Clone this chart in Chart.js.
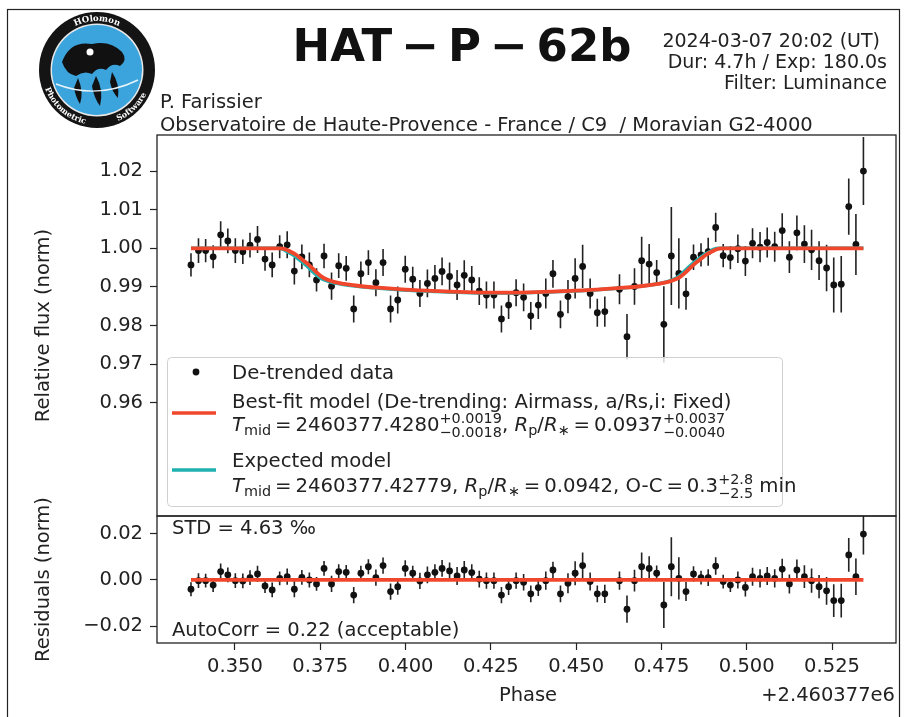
<!DOCTYPE html>
<html><head><meta charset="utf-8">
<script src="https://cdn.jsdelivr.net/npm/chart.js@4.4.1/dist/chart.umd.min.js"></script>
<style>
html,body{margin:0;padding:0;background:#fff;}
#wrap{position:relative;width:905px;height:717px;overflow:hidden;background:#fff;}
canvas{position:absolute;left:0;top:0;}
#ov{position:absolute;left:0;top:0;font-family:'DejaVu Sans',sans-serif;}
#ov text{white-space:pre;}
</style></head><body>
<div id="wrap">
<canvas id="mainChart" width="905" height="717"></canvas>
<canvas id="residChart" width="905" height="717"></canvas>
<svg id="ov" width="905" height="717" xmlns="http://www.w3.org/2000/svg">
  <rect x="7.5" y="9.5" width="892" height="720" fill="none" stroke="#222" stroke-width="1.2"/>
  <g id="logo">
    <circle cx="97" cy="70" r="58" fill="#141414"/>
    <circle cx="97" cy="70" r="46.5" fill="#e8e8e8"/>
    <circle cx="97" cy="70" r="45" fill="#3ba4dc"/>
    <path d="M62,62 Q70,40 92,44 Q110,40 122,52 Q128,60 120,66 Q112,62 106,70 Q98,66 92,74 Q84,70 76,76 Q66,74 62,62 Z" fill="#111"/>
    <path d="M78,78 Q84,92 80,104 Q76,98 74,88 Z M96,76 Q104,90 100,106 Q94,98 92,86 Z M112,72 Q120,84 118,98 Q112,92 110,82 Z" fill="#111"/>
    <path d="M56,84 Q97,100 138,80" stroke="#e8f4fb" stroke-width="1.4" fill="none"/>
    <circle cx="90" cy="52" r="3.5" fill="#fff"/>
    <defs>
      <path id="arcTop" d="M48,70 A49,49 0 0 1 146,70"/>
      <path id="arcBot" d="M42,70 A55,55 0 0 0 152,70"/>
    </defs>
    <text font-family="DejaVu Serif" font-weight="bold" font-size="8.5" fill="#fff"><textPath href="#arcTop" startOffset="50%" text-anchor="middle">HOlomon</textPath></text>
    <text font-family="DejaVu Serif" font-weight="bold" font-size="8" fill="#fff"><textPath href="#arcBot" startOffset="27%" text-anchor="middle">Photometric</textPath></text>
    <text font-family="DejaVu Serif" font-weight="bold" font-size="8" fill="#fff"><textPath href="#arcBot" startOffset="74%" text-anchor="middle">Software</textPath></text>
  </g>
  <text x="462" y="61" font-size="45" font-weight="bold" text-anchor="middle" fill="#111">HAT&#8201;−&#8201;P&#8201;−&#8201;62b</text>
  <g font-size="19" fill="#222" text-anchor="end">
    <text x="880" y="47">2024-03-07 20:02 (UT)</text>
    <text x="887" y="68">Dur: 4.7h / Exp: 180.0s</text>
    <text x="887" y="89">Filter: Luminance</text>
  </g>
  <g font-size="19.5" fill="#222">
    <text x="160" y="108">P. Farissier</text>
    <text x="160" y="131">Observatoire de Haute-Provence - France / C9  / Moravian G2-4000</text>
    <text x="172" y="534">STD = 4.63 ‰</text>
    <text x="172" y="636">AutoCorr = 0.22 (acceptable)</text>
    <text x="528" y="701" text-anchor="middle">Phase</text>
    <text x="895" y="701" text-anchor="end">+2.460377e6</text>
    <text transform="translate(49,325.5) rotate(-90)" text-anchor="middle">Relative flux (norm)</text>
    <text transform="translate(49,579.5) rotate(-90)" text-anchor="middle">Residuals (norm)</text>
  </g>
  <g id="legend">
    <rect x="167.5" y="357.5" width="615" height="149" rx="4" fill="#fff" fill-opacity="0.8" stroke="#d0d0d0" stroke-width="1"/>
    <circle cx="196" cy="372" r="3.4" fill="#111"/>
    <line x1="172" y1="413" x2="216" y2="413" stroke="#f0472c" stroke-width="3.5"/>
    <line x1="172" y1="470" x2="216" y2="470" stroke="#1fb0b0" stroke-width="3.5"/>
    <g font-size="19.7" fill="#222" id="legText">
      <text x="232" y="379">De-trended data</text>
      <text x="232" y="408">Best-fit model (De-trending: Airmass, a/Rs,i: Fixed)</text>
      <text x="232" y="467">Expected model</text>
    </g>
  </g>
</svg>
</div>
<script>
// ---- data ----
const phase = [0.3371,0.3393,0.3414,0.3436,0.3458,0.3479,0.3501,0.3523,0.3544,0.3566,
0.3588,0.3609,0.3631,0.3653,0.3674,0.3696,0.3718,0.3739,0.3761,0.3783,
0.3804,0.3826,0.3848,0.3869,0.3891,0.3913,0.3934,0.3956,0.3977,0.3999,
0.4021,0.4042,0.4064,0.4086,0.4107,0.4129,0.4151,0.4172,0.4194,0.4216,
0.4237,0.4259,0.4281,0.4302,0.4324,0.4346,0.4367,0.4389,0.4411,0.4432,
0.4454,0.4476,0.4497,0.4519,0.4541,0.4562,0.4584,0.4627,0.4649,0.4671,
0.4692,0.4714,0.4736,0.4757,0.4779,0.4801,0.4822,0.4844,0.4866,0.4887,
0.4909,0.4931,0.4952,0.4974,0.4996,0.5017,0.5039,0.5060,0.5082,0.5104,
0.5125,0.5147,0.5169,0.5190,0.5212,0.5234,0.5255,0.5277,0.5299,0.5320,0.5342];
const flux = [0.9957,0.9994,0.9994,0.9978,1.0035,1.0019,0.9994,0.9991,1.0008,1.0023,
0.9972,0.9957,1.0004,1.0009,0.9941,0.9978,0.9957,0.9918,0.9980,0.9902,
0.9955,0.9948,0.9843,0.9934,0.9963,0.9911,0.9963,0.9843,0.9866,0.9946,
0.9920,0.9883,0.9909,0.9922,0.9940,0.9927,0.9905,0.9930,0.9918,0.9889,
0.9879,0.9879,0.9817,0.9853,0.9885,0.9873,0.9825,0.9853,0.9883,0.9934,
0.9829,0.9875,0.9922,0.9953,0.9883,0.9833,0.9836,0.9894,0.9771,0.9901,
0.9968,0.9959,0.9937,0.9803,0.9980,0.9935,0.9882,0.9977,0.9983,0.9991,
1.0054,0.9981,0.9976,0.9999,0.9967,1.0013,1.0003,1.0015,1.0004,1.0046,
0.9977,1.0040,1.0011,0.9996,0.9968,0.9949,0.9905,0.9907,1.0108,1.0010,1.0200];
const fluxErr = [0.0030,0.0032,0.0030,0.0030,0.0035,0.0032,0.0032,0.0032,0.0032,0.0035,
0.0030,0.0032,0.0030,0.0035,0.0035,0.0032,0.0032,0.0030,0.0032,0.0035,
0.0032,0.0032,0.0035,0.0032,0.0032,0.0035,0.0035,0.0035,0.0035,0.0035,
0.0032,0.0035,0.0036,0.0035,0.0036,0.0036,0.0039,0.0039,0.0036,0.0036,
0.0035,0.0035,0.0035,0.0036,0.0035,0.0036,0.0036,0.0036,0.0039,0.0036,
0.0036,0.0043,0.0052,0.0056,0.0039,0.0036,0.0039,0.0039,0.0059,0.0047,
0.0062,0.0052,0.0033,0.0099,0.0127,0.0091,0.0041,0.0033,0.0030,0.0036,
0.0038,0.0030,0.0030,0.0037,0.0039,0.0039,0.0039,0.0039,0.0039,0.0045,
0.0041,0.0045,0.0049,0.0052,0.0050,0.0060,0.0071,0.0073,0.0073,0.0079,0.0088];
const resid = [-0.0040,-0.0003,-0.0003,-0.0022,0.0036,0.0022,-0.0003,-0.0004,0.0010,0.0026,
-0.0026,-0.0043,0.0007,0.0014,-0.0040,0.0011,0.0000,-0.0017,0.0050,-0.0017,
0.0036,0.0033,-0.0065,0.0029,0.0057,0.0010,0.0062,-0.0050,-0.0029,0.0050,
0.0029,-0.0004,0.0022,0.0033,0.0050,0.0039,0.0017,0.0043,0.0032,0.0004,
-0.0003,-0.0003,-0.0065,-0.0029,-0.0003,-0.0010,-0.0060,-0.0033,-0.0003,0.0043,
-0.0060,-0.0014,0.0029,0.0062,-0.0007,-0.0060,-0.0060,-0.0003,-0.0126,-0.0003,
0.0057,0.0050,0.0029,-0.0108,0.0057,0.0007,-0.0050,0.0026,0.0010,0.0010,
0.0060,-0.0007,-0.0022,0.0000,-0.0032,0.0014,0.0007,0.0017,0.0007,0.0047,
-0.0017,0.0043,0.0014,-0.0003,-0.0029,-0.0047,-0.0089,-0.0089,0.0108,0.0014,0.0198];
const fitPhase = [0.3371,0.3632,0.3650,0.3661,0.3678,0.3695,0.3710,0.3725,0.3740,0.3755,
0.3770,0.3790,0.3820,0.3860,0.3920,0.4000,0.4100,0.4200,0.4280,0.4360,
0.4460,0.4560,0.4640,0.4700,0.4740,0.4770,0.4790,0.4805,0.4820,0.4835,
0.4850,0.4865,0.4882,0.4899,0.4910,0.4928,0.5342];
const fitFlux = [1.0000,1.0000,0.9997,0.9992,0.9984,0.9972,0.9962,0.9950,0.9937,0.9926,
0.9919,0.9913,0.9908,0.9903,0.9898,0.9893,0.9889,0.9886,0.9885,0.9886,
0.9889,0.9893,0.9898,0.9903,0.9908,0.9913,0.9919,0.9926,0.9937,0.9950,
0.9962,0.9972,0.9984,0.9992,0.9997,1.0000,1.0000];
const expPhase = [0.3371,0.3624,0.3642,0.3653,0.3670,0.3687,0.3702,0.3717,0.3732,0.3747,
0.3762,0.3782,0.3812,0.3852,0.3912,0.3992,0.4092,0.4192,0.4272,0.4352,
0.4452,0.4552,0.4632,0.4692,0.4732,0.4762,0.4782,0.4797,0.4812,0.4827,
0.4842,0.4857,0.4874,0.4891,0.4902,0.4920,0.5342];
const expFlux = [1.0000,1.0000,0.9997,0.9991,0.9983,0.9971,0.9961,0.9949,0.9936,0.9925,
0.9918,0.9912,0.9907,0.9902,0.9897,0.9892,0.9888,0.9885,0.9884,0.9885,
0.9888,0.9892,0.9897,0.9902,0.9907,0.9912,0.9918,0.9925,0.9936,0.9949,
0.9961,0.9971,0.9983,0.9991,0.9997,1.0000,1.0000];
const xTicks = [0.350,0.375,0.400,0.425,0.450,0.475,0.500,0.525];
const fluxTicks = [0.96,0.97,0.98,0.99,1.00,1.01,1.02];
const residTicks = [-0.02,0.00,0.02];
const residTickLabels = ['\u22120.02','0.00','0.02'];
const xRange = [0.32714,0.54375];
const fluxRange = [0.93065,1.02935];
const residRange = [-0.0272,0.0276];

// ---- drawing ----
const RED='#f0472c', CYAN='#1fb0b0', INK='#222';
const FONT={family:"'DejaVu Sans', sans-serif", size:19.5};
const pts=(xs,ys)=>xs.map((v,i)=>({x:v,y:ys[i]}));

function errorBarPlugin(vals, errs){
  return {id:'errorBars', beforeDatasetsDraw(chart){
    const {ctx, chartArea:a, scales:{x,y}} = chart;
    ctx.save(); ctx.beginPath(); ctx.rect(a.left,a.top,a.right-a.left,a.bottom-a.top); ctx.clip();
    ctx.strokeStyle=INK; ctx.lineWidth=1.6; ctx.beginPath();
    for(let i=0;i<phase.length;i++){
      const px=x.getPixelForValue(phase[i]);
      ctx.moveTo(px,y.getPixelForValue(vals[i]-errs[i]));
      ctx.lineTo(px,y.getPixelForValue(vals[i]+errs[i]));
    }
    ctx.stroke(); ctx.restore();
  }};
}
const framePlugin={id:'frame', afterDraw(chart){
  const {ctx, chartArea:a}=chart; ctx.save(); ctx.strokeStyle='#222'; ctx.lineWidth=1.3;
  ctx.strokeRect(a.left,a.top,a.right-a.left,a.bottom-a.top); ctx.restore();
}};

function yAxis(range, ticks, labelFn){
  return {type:'linear', min:range[0], max:range[1],
    afterFit(s){s.width=157;},
    afterBuildTicks(s){s.ticks=ticks.map(v=>({value:v}));},
    ticks:{font:FONT, color:INK, padding:7, callback:labelFn},
    grid:{drawOnChartArea:false, drawTicks:true, tickLength:7, tickWidth:1.2, tickColor:'#222'},
    border:{display:false}};
}
const common={responsive:false, animation:false, events:[], devicePixelRatio:1,
  plugins:{legend:{display:false}, tooltip:{enabled:false}}};

new Chart(document.getElementById('mainChart'),{
  type:'scatter',
  data:{datasets:[
    {data:pts(phase,flux), pointRadius:3.4, pointBackgroundColor:'#111', pointBorderWidth:0, showLine:false, order:2},
    {data:pts(expPhase,expFlux), showLine:true, borderColor:CYAN, borderWidth:3.5, pointRadius:0, cubicInterpolationMode:'monotone', order:1},
    {data:pts(fitPhase,fitFlux), showLine:true, borderColor:RED, borderWidth:3.8, pointRadius:0, cubicInterpolationMode:'monotone', order:0}
  ]},
  options:Object.assign({}, common, {
    layout:{padding:{top:135, bottom:201, left:0, right:9}},
    scales:{
      x:{type:'linear', min:xRange[0], max:xRange[1], display:false},
      y:yAxis(fluxRange, fluxTicks, v=>v.toFixed(2))
    }
  }),
  plugins:[errorBarPlugin(flux, fluxErr), framePlugin]
});

new Chart(document.getElementById('residChart'),{
  type:'scatter',
  data:{datasets:[
    {data:pts(phase,resid), pointRadius:3.4, pointBackgroundColor:'#111', pointBorderWidth:0, showLine:false, order:1},
    {data:[{x:phase[0],y:0},{x:phase[phase.length-1],y:0}], showLine:true, borderColor:RED, borderWidth:3.8, pointRadius:0, order:0}
  ]},
  options:Object.assign({}, common, {
    layout:{padding:{top:516, bottom:0, left:0, right:9}},
    scales:{
      x:{type:'linear', min:xRange[0], max:xRange[1],
        afterFit(s){s.height=74;},
        afterBuildTicks(s){s.ticks=xTicks.map(v=>({value:v}));},
        ticks:{font:FONT, color:INK, padding:5, maxRotation:0, autoSkip:false, callback:v=>v.toFixed(3)},
        grid:{drawOnChartArea:false, drawTicks:true, tickLength:7, tickWidth:1.2, tickColor:'#222'},
        border:{display:false}},
      y:yAxis(residRange, residTicks, v=>residTickLabels[residTicks.findIndex(t=>Math.abs(t-v)<1e-9)])
    }
  }),
  plugins:[errorBarPlugin(resid, fluxErr), framePlugin]
});

// ---- legend math lines (real SVG text, laid out by measuring) ----
const NS='http://www.w3.org/2000/svg';
const legG=document.getElementById('legText');
function tx(x,y,s,size,italic){
  const t=document.createElementNS(NS,'text');
  t.setAttribute('x',x); t.setAttribute('y',y); t.setAttribute('font-size',size);
  t.setAttributeNS('http://www.w3.org/XML/1998/namespace','xml:space','preserve');
  t.style.whiteSpace='pre';
  if(italic) t.setAttribute('font-style','italic');
  t.textContent=s; legG.appendChild(t); return t.getComputedTextLength();
}
function mathLine(x,y,segs,size){
  const s2=size*0.73;
  for(const [s,k] of segs){
    if(k==='n') x+=tx(x,y,s,size,false);
    else if(k==='i') x+=tx(x,y,s,size,true);
    else if(k==='sub') x+=tx(x,y+size*0.22,s,s2,false);
    else if(k==='stack'){
      const w1=tx(x,y-size*0.42,s[0],s2,false);
      const w2=tx(x,y+size*0.3,s[1],s2,false);
      x+=Math.max(w1,w2);
    }
  }
}
mathLine(232,431,[['T','i'],['mid','sub'],['\u2009=\u20092460377.4280','n'],[['+0.0019','\u22120.0018'],'stack'],[', ','n'],['R','i'],['p','sub'],['/','n'],['R','i'],['\u2217','sub'],['\u2009=\u20090.0937','n'],[['+0.0037','\u22120.0040'],'stack']],19.7);
mathLine(232,492,[['T','i'],['mid','sub'],['\u2009=\u20092460377.42779, ','n'],['R','i'],['p','sub'],['/','n'],['R','i'],['\u2217','sub'],['\u2009=\u20090.0942, O-C\u2009=\u20090.3','n'],[['+2.8','\u22122.5'],'stack'],[' min','n']],19.7);
</script>
</body></html>
